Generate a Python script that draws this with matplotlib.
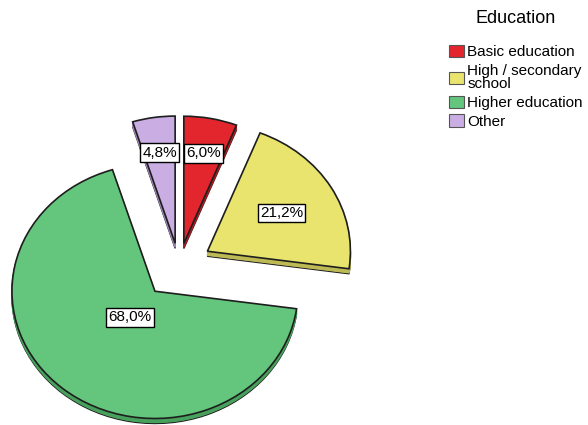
import numpy as np
import matplotlib.pyplot as plt
from matplotlib.patches import Wedge, Patch
from matplotlib.transforms import Affine2D

plt.rcParams['font.family'] = ['Liberation Sans', 'DejaVu Sans']

# data
categories = ['Basic education', 'High / secondary\nschool', 'Higher education', 'Other']
shares = [6.0, 21.2, 68.0, 4.8]
pct_labels = ['6,0%', '21,2%', '68,0%', '4,8%']

# styles
colors = ['#e3262e', '#e8e46e', '#63c67c', '#c9ade3']
sides = ['#a81c22', '#bdb954', '#47a05c', '#9d84b6']
explode = [0.18, 0.23, 0.26, 0.18]   # fraction of radius
label_frac = [0.72, 0.6, 0.27, 0.72]

W, H = 588, 425
cx, cy, r = 179, H - 266, 143
squash = 0.89
depth = 5

fig = plt.figure(figsize=(W / 100, H / 100), dpi=100)
ax = fig.add_axes([0, 0, 1, 1])

# pie() takes explode in data units, so scale by the radius
wedges, _ = ax.pie(shares, colors=colors, startangle=90, counterclock=False,
                   explode=[e * r for e in explode], center=(cx, cy), radius=r,
                   wedgeprops=dict(edgecolor='#1e1e1e', linewidth=1.2))
ax.set_aspect('auto')
ax.set_xlim(0, W)
ax.set_ylim(0, H)
ax.axis('off')

# flatten the pie a bit and give it some thickness
tilt = Affine2D().translate(-cx, -cy).scale(1, squash).translate(cx, cy)
for w, side in zip(wedges, sides):
    w.set_transform(tilt + ax.transData)
    w.set_zorder(3)
    for k in range(depth, 0, -1):
        edge = '#1e1e1e' if k == depth else side
        s = Wedge(w.center, w.r, w.theta1, w.theta2, facecolor=side,
                  edgecolor=edge, linewidth=1.0,
                  transform=tilt + Affine2D().translate(0, -k) + ax.transData,
                  zorder=2)
        ax.add_patch(s)

# percentage labels in white boxes
for w, lab, f in zip(wedges, pct_labels, label_frac):
    mid = np.deg2rad((w.theta1 + w.theta2) / 2)
    x = w.center[0] + f * w.r * np.cos(mid)
    y = w.center[1] + f * w.r * np.sin(mid)
    y = cy + squash * (y - cy)
    ax.text(x, y, lab, ha='center', va='center', fontsize=11, zorder=5,
            bbox=dict(boxstyle='square,pad=0.15', fc='white', ec='black', lw=1))

handles = [Patch(facecolor=c, edgecolor='#555555', linewidth=0.8) for c in colors]
leg = fig.legend(handles, categories, title='Education', loc='upper left',
                 bbox_to_anchor=(449 / W, 1 - 10 / H), frameon=False,
                 fontsize=11, title_fontsize=13, borderpad=0, borderaxespad=0,
                 handlelength=0.95, handleheight=0.85, handletextpad=0.25,
                 labelspacing=0.3)
leg._legend_box.sep = 13
for t in leg.get_texts():
    t.set_linespacing(0.9)

fig.savefig('out.png', dpi=100)
